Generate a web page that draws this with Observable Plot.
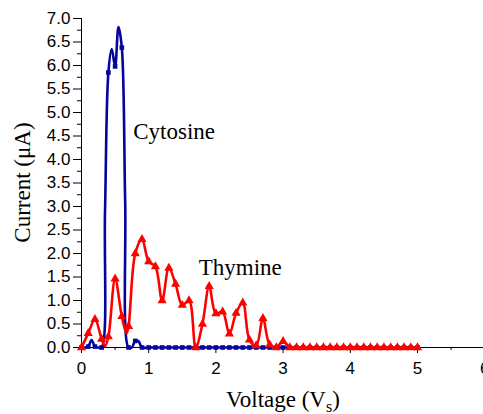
<!DOCTYPE html>
<html>
<head>
<meta charset="utf-8">
<script src="https://cdn.jsdelivr.net/npm/d3@7"></script>
<script src="https://cdn.jsdelivr.net/npm/@observablehq/plot@0.6"></script>
<style>
html, body { margin: 0; padding: 0; background: #fff; overflow: hidden; }
</style>
</head>
<body>
<div id="chart"></div>
<script>
// ---- Data ----
const cytosineVoltage = [0, 0.05, 0.1, 0.15, 0.2, 0.25, 0.3, 0.35, 0.4, 0.45, 0.5, 0.55, 0.6, 0.65, 0.7, 0.75, 0.8, 0.85, 0.9,
  1.0, 1.1, 1.2, 1.3, 1.4, 1.5, 1.6, 1.7, 1.8, 1.9, 2.0, 2.1, 2.2, 2.3, 2.4, 2.5, 2.6, 2.7, 2.8, 2.9, 3.0,
  3.1, 3.2, 3.3, 3.4, 3.5, 3.6, 3.7, 3.8, 3.9, 4.0, 4.1, 4.2, 4.3, 4.4, 4.5, 4.6, 4.7, 4.8, 4.9, 5.0];
const cytosineCurrent = [0, 0, 0.02, 0.16, 0.02, 0, 0, 2.9, 5.85, 6.35, 5.98, 6.82, 6.38, 3.1, 0, 0, 0.14, 0.13, 0,
  0, 0, 0, 0, 0, 0, 0, 0, 0, 0, 0, 0, 0, 0, 0, 0, 0, 0, 0, 0, 0,
  0, 0, 0, 0, 0, 0, 0, 0, 0, 0, 0, 0, 0, 0, 0, 0, 0, 0, 0, 0];

// measured points (triangles)
const thymineVoltage = [0, 0.1, 0.2, 0.3, 0.4, 0.5, 0.6, 0.7, 0.8, 0.9, 1.0, 1.1, 1.2, 1.3, 1.4, 1.5, 1.6, 1.7, 1.8, 1.9,
  2.0, 2.1, 2.2, 2.3, 2.4, 2.5, 2.6, 2.7, 2.8, 2.9, 3.0, 3.1, 3.2, 3.3, 3.4, 3.5, 3.6, 3.7, 3.8, 3.9,
  4.0, 4.1, 4.2, 4.3, 4.4, 4.5, 4.6, 4.7, 4.8, 4.9, 5.0];
const thymineCurrent = [0, 0.3, 0.6, 0.18, 0.23, 1.46, 0.66, 0.45, 2.0, 2.3, 1.83, 1.72, 1.0, 1.69, 1.35, 0.9, 1.0, 0.0, 0.5, 1.3,
  0.72, 0.76, 0.29, 0.73, 0.95, 0.16, 0.04, 0.62, 0.06, 0.0, 0.13, 0, 0, 0, 0, 0, 0, 0, 0, 0,
  0, 0, 0, 0, 0, 0, 0, 0, 0, 0, 0];
// dips of the smoothed Thymine trace between markers
const thymineDipVoltage = [0.35, 0.67];
const thymineDipCurrent = [0.03, 0.3];

const xTicks = [0, 1, 2, 3, 4, 5, 6];
const xMinorTicks = [0.5, 1.5, 2.5, 3.5, 4.5, 5.5];
const yTicks = [0, 0.5, 1, 1.5, 2, 2.5, 3, 3.5, 4, 4.5, 5, 5.5, 6, 6.5, 7];
const yMinorTicks = [0.25, 0.75, 1.25, 1.75, 2.25, 2.75, 3.25, 3.75, 4.25, 4.75, 5.25, 5.75, 6.25, 6.75];

const seriesLabels = ["Cytosine", "Thymine"];
const labelVoltage = [0.77, 1.745];
const labelCurrent = [4.44, 1.55];

const xTitle = ["Voltage (V", "s", ")"];
const yTitle = "Current (\u03BCA)";

// ---- Build tables ----
const blue = "#05059c";
const red = "#ff0000";
const serif = "'Liberation Serif', 'Times New Roman', serif";
const sans = "'Liberation Sans', Arial, sans-serif";

const cyt = cytosineVoltage.map((v, i) => ({v, c: cytosineCurrent[i]}));
const cytMarkers = cyt.filter(d => Math.round(d.v * 100) % 10 === 0);
const thy = thymineVoltage.map((v, i) => ({v, c: thymineCurrent[i]}));
const thyLine = thy.concat(thymineDipVoltage.map((v, i) => ({v, c: thymineDipCurrent[i]})))
  .sort((a, b) => a.v - b.v);
const labels = seriesLabels.map((t, i) => ({t, v: labelVoltage[i], c: labelCurrent[i]}));

const chart = Plot.plot({
  width: 483,
  height: 414,
  marginLeft: 81,
  marginRight: 0,
  marginTop: 18,
  marginBottom: 67,
  style: {fontFamily: sans, fontSize: "17px", color: "#000", background: "#fff", overflow: "hidden"},
  x: {domain: [0, 6], range: [81, 484.2], label: null},
  y: {domain: [0, 7], range: [347, 18], label: null},
  marks: [
    Plot.axisX(xTicks, {tickSize: 6, tickPadding: 8, tickFormat: d => String(d), label: null, fontSize: 17}),
    Plot.axisX(xMinorTicks, {tickSize: 3, tickFormat: () => "", label: null}),
    Plot.axisY(yTicks, {tickSize: 8, tickPadding: 3, tickFormat: d3.format(".1f"), label: null, fontSize: 17}),
    Plot.axisY(yMinorTicks, {tickSize: 4, tickFormat: () => "", label: null}),
    Plot.ruleX([0], {y1: 0, y2: 7, stroke: "#000"}),
    Plot.ruleY([0], {x1: 0, x2: 6, stroke: "#000"}),
    Plot.line(cyt, {x: "v", y: "c", stroke: blue, strokeWidth: 2.6, curve: "catmull-rom"}),
    Plot.dot(cytMarkers, {x: "v", y: "c", symbol: "square", r: 2.6, fill: blue}),
    Plot.line(thyLine, {x: "v", y: "c", stroke: red, strokeWidth: 2.6, curve: "catmull-rom"}),
    Plot.dot(thy, {x: "v", y: "c", symbol: "triangle", r: 3.4, fill: red}),
    Plot.text(labels, {x: "v", y: "c", text: "t", textAnchor: "start", lineAnchor: "bottom",
      fontFamily: serif, fontSize: 23, fill: "#000"})
  ]
});

const svg = d3.select(chart);
// X axis title with subscript
const xt = svg.append("text")
  .attr("x", 283).attr("y", 406.5)
  .attr("text-anchor", "middle")
  .attr("font-family", serif).attr("font-size", 23).attr("fill", "#000");
xt.append("tspan").text(xTitle[0]);
xt.append("tspan").attr("font-size", 16).attr("dy", 5).text(xTitle[1]);
xt.append("tspan").attr("dy", -5).text(xTitle[2]);

// Y axis title
svg.append("text")
  .attr("transform", "translate(30,182.5) rotate(-90)")
  .attr("text-anchor", "middle")
  .attr("font-family", serif).attr("font-size", 23).attr("fill", "#000")
  .text(yTitle);

document.getElementById("chart").appendChild(chart);
</script>
</body>
</html>
